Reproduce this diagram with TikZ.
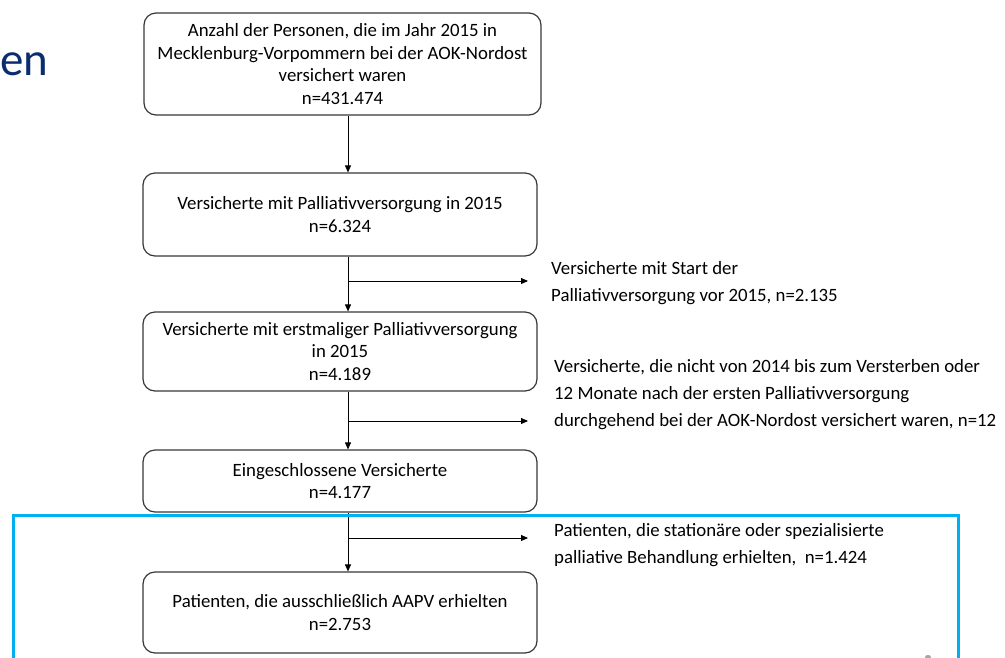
\documentclass[tikz,border=0pt]{standalone}
\usepackage{fontspec}
\setmainfont{Carlito}
\usetikzlibrary{arrows.meta}
\definecolor{slideblue}{HTML}{00B0F0}
\definecolor{titleblue}{HTML}{0B2D6E}
\definecolor{boxline}{HTML}{383838}
\begin{document}
\begin{tikzpicture}[x=1pt,y=-1pt,
  flowbox/.style={draw=boxline, line width=1.2pt, rounded corners=12pt, align=center,
    font=\fontsize{18.8}{22.5}\selectfont, inner sep=0pt, text=black},
  sidenote/.style={align=left, anchor=west, font=\fontsize{18.8}{27}\selectfont, inner sep=0pt, text=black},
  flowline/.style={line width=0.9pt, draw=black},
  flowarrow/.style={flowline, -{Triangle[length=7pt,width=6pt]}},
]
\useasboundingbox (0,0) rectangle (1005,657);
\fill[white] (0,0) rectangle (1005,657);

\node[anchor=base west, inner sep=0pt, text=titleblue, font=\fontsize{47}{50}\selectfont] (title) at (0,75) {en};

\node[flowbox, minimum width=397pt, minimum height=102pt] (b1) at (342.5,64)
  {Anzahl der Personen, die im Jahr 2015 in\\Mecklenburg-Vorpommern bei der AOK-Nordost\\versichert waren\\n=431.474};
\node[flowbox, minimum width=394pt, minimum height=83pt] (b2) at (340,214.5)
  {Versicherte mit Palliativversorgung in 2015\\n=6.324};
\node[flowbox, minimum width=394pt, minimum height=79pt] (b3) at (340,351.5)
  {Versicherte mit erstmaliger Palliativversorgung\\in 2015\\n=4.189};
\node[flowbox, minimum width=394pt, minimum height=62pt] (b4) at (340,481)
  {Eingeschlossene Versicherte\\n=4.177};
\node[flowbox, minimum width=394pt, minimum height=81pt] (b5) at (340,612.5)
  {Patienten, die ausschließlich AAPV erhielten\\n=2.753};

\node[sidenote] (s1) at (551,283) {Versicherte mit Start der\\Palliativversorgung vor 2015, n=2.135};
\node[sidenote] (s2) at (554,395) {Versicherte, die nicht von 2014 bis zum Versterben oder\\12 Monate nach der ersten Palliativversorgung\\durchgehend bei der AOK-Nordost versichert waren, n=12};
\node[sidenote] (s3) at (554,545) {Patienten, die stationäre oder spezialisierte\\palliative Behandlung erhielten,~ n=1.424};

\coordinate (xline) at (348,0);
\coordinate (t1) at (528,281);
\coordinate (t2) at (528,421);
\coordinate (t3) at (528,538);

\draw[flowarrow] (b1.south -| xline) -- (b2.north -| xline);
\draw[flowarrow] (b2.south -| xline) -- (b3.north -| xline);
\draw[flowarrow] (b3.south -| xline) -- (b4.north -| xline);
\draw[flowarrow] (b4.south -| xline) -- (b5.north -| xline);
\draw[flowarrow] (t1 -| xline) -- (t1);
\draw[flowarrow] (t2 -| xline) -- (t2);
\draw[flowarrow] (t3 -| xline) -- (t3);

\draw[slideblue, line width=3pt] (13,700) -- (13,515) -- (958,515) -- (958,700);
\fill[gray!70] (928,657) ellipse (3pt and 2pt);
\end{tikzpicture}
\end{document}
